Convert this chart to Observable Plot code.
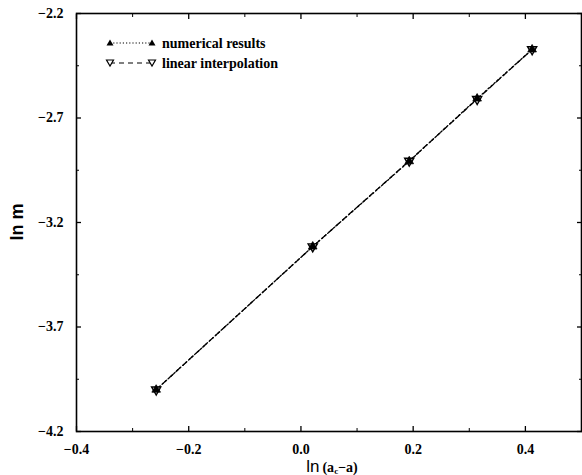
<!DOCTYPE html>
<html><head><meta charset="utf-8">
<script src="https://cdn.jsdelivr.net/npm/d3@7"></script>
<script src="https://cdn.jsdelivr.net/npm/@observablehq/plot@0.6"></script>
<style>
body{margin:0;background:#fff}
#wrap{position:relative;width:582px;height:475px;overflow:hidden}
.ov{position:absolute;left:0;top:0;pointer-events:none}
</style></head><body><div id="wrap"></div>
<script>
// ln(a_c - a)
const lnDiff = [-0.258, 0.021, 0.193, 0.314, 0.412];
// ln m, numerical results
const lnM = [-4.0, -3.315, -2.907, -2.607, -2.372];
// ln m, linear interpolation
const lnMFit = [-4.0, -3.315, -2.905, -2.61, -2.372];
const xTicks = [-0.4, -0.2, 0.0, 0.2, 0.4];
const xMinor = [-0.3, -0.1, 0.1, 0.3, 0.5];
const yTicks = [-2.2, -2.7, -3.2, -3.7, -4.2];
const yMinor = [-2.45, -2.95, -3.45, -3.95];
const seriesNames = ["numerical results", "linear interpolation"];

const num = lnDiff.map((x, i) => ({x, y: lnM[i]}));
const fit = lnDiff.map((x, i) => ({x, y: lnMFit[i]}));
const fmt = d3.format(".1f");
const SERIF = "'Liberation Serif', 'Times New Roman', serif";

const chart = Plot.plot({
  width: 582, height: 475,
  marginLeft: 76, marginRight: 1, marginTop: 13, marginBottom: 44,
  x: {domain: [-0.4, 0.5]},
  y: {domain: [-4.2, -2.2]},
  marks: [
    Plot.axisX({ticks: xTicks, tickSize: 0, tickPadding: 13, tickFormat: fmt, label: null}),
    Plot.axisX({ticks: xTicks, tickSize: -5, text: null, label: null, strokeWidth: 1.3}),
    Plot.axisX({ticks: xMinor, tickSize: -3, text: null, label: null}),
    Plot.axisX({anchor: "top", ticks: xTicks, tickSize: -5, text: null, label: null, strokeWidth: 1.3}),
    Plot.axisX({anchor: "top", ticks: xMinor, tickSize: -3, text: null, label: null}),
    Plot.axisY({ticks: yTicks, tickSize: 0, tickPadding: 13, tickFormat: fmt, label: null}),
    Plot.axisY({ticks: yTicks, tickSize: -5, text: null, label: null, strokeWidth: 1.3}),
    Plot.axisY({ticks: yMinor, tickSize: -3, text: null, label: null}),
    Plot.axisY({anchor: "right", ticks: yTicks, tickSize: -5, text: null, label: null, strokeWidth: 1.3}),
    Plot.axisY({anchor: "right", ticks: yMinor, tickSize: -3, text: null, label: null}),
    Plot.frame({stroke: "black", strokeWidth: 1.6}),
    Plot.line(num, {x: "x", y: "y", stroke: "black", strokeWidth: 1.3, strokeDasharray: "1.5,2.5"}),
    Plot.line(fit, {x: "x", y: "y", stroke: "black", strokeWidth: 1.3, strokeDasharray: "5,4"}),
    Plot.dot(fit, {x: "x", y: "y", symbol: "triangle", rotate: 180, r: 3.4, fill: "white", stroke: "black", strokeWidth: 1.4}),
    Plot.dot(num, {x: "x", y: "y", symbol: "triangle", r: 3.2, fill: "black", stroke: "black", strokeWidth: 0.8})
  ]
});
// tick label typography (bold serif, as in the reference)
d3.select(chart).attr("font-family", SERIF).attr("font-size", 14).attr("font-weight", "bold");
d3.select(chart).selectAll("g[aria-label$='tick label'], g[aria-label$='tick label'] text")
  .attr("font-family", SERIF).attr("font-weight", "bold").attr("font-size", 14)
  .style("font-family", SERIF).style("font-weight", "bold").style("font-size", "14px").attr("fill", "black");

const wrap = document.getElementById("wrap");
wrap.appendChild(chart);

// overlay: axis titles and legend
const ns = "http://www.w3.org/2000/svg";
const ov = document.createElementNS(ns, "svg");
ov.setAttribute("class", "ov");
ov.setAttribute("width", 582);
ov.setAttribute("height", 475);
ov.innerHTML = `
  <g font-family="Liberation Serif, serif" font-weight="bold" font-size="14" fill="black">
    <line x1="110" y1="43" x2="152" y2="43" stroke="black" stroke-width="1.2" stroke-dasharray="1.2,2"/>
    <path d="M106.5,45.5 L113.5,45.5 L110,39.5 Z" fill="black"/>
    <path d="M148.5,45.5 L155.5,45.5 L152,39.5 Z" fill="black"/>
    <text x="162" y="48">${seriesNames[0]}</text>
    <line x1="110" y1="63" x2="152" y2="63" stroke="black" stroke-width="1.2" stroke-dasharray="5,4"/>
    <path d="M106.5,60 L113.5,60 L110,66 Z" fill="white" stroke="black" stroke-width="1.2"/>
    <path d="M148.5,60 L155.5,60 L152,66 Z" fill="white" stroke="black" stroke-width="1.2"/>
    <text x="162" y="68">${seriesNames[1]}</text>
  </g>
  <g transform="translate(23,222) rotate(-90)" text-anchor="middle" fill="black">
    <text font-family="Liberation Sans, sans-serif" font-weight="bold" font-size="18">ln m</text>
  </g>
  <text x="332" y="472" text-anchor="middle" fill="black"><tspan font-family="Liberation Sans, sans-serif" font-size="17">ln</tspan><tspan font-family="Liberation Serif, serif" font-weight="bold" font-size="14" dx="3">(a</tspan><tspan font-family="Liberation Serif, serif" font-weight="bold" font-size="9" dy="2">c</tspan><tspan font-family="Liberation Serif, serif" font-weight="bold" font-size="14" dy="-2">−a)</tspan></text>
`;
wrap.appendChild(ov);
</script>
</body></html>
